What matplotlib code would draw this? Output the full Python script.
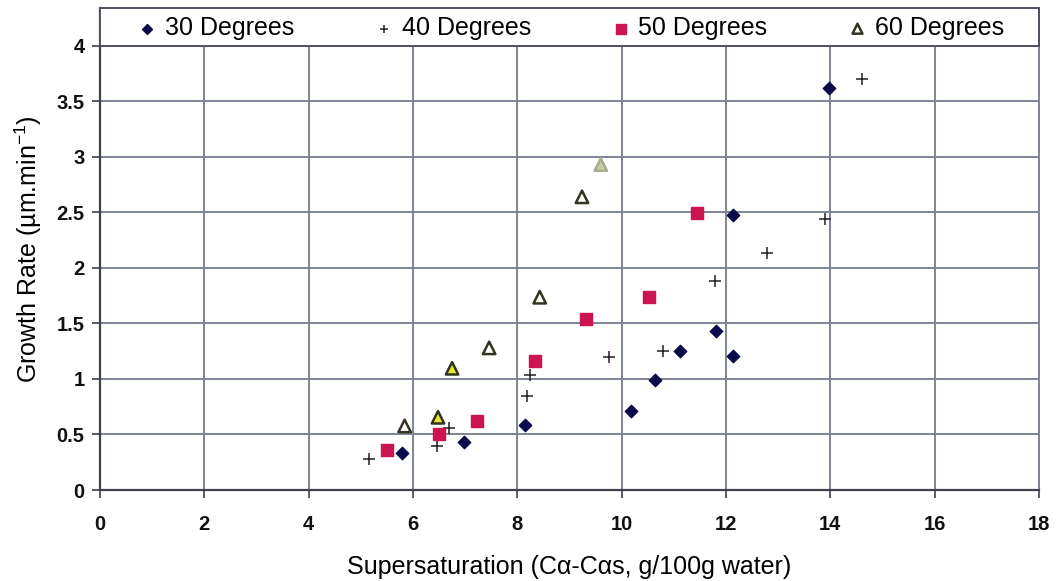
import numpy as np
import matplotlib
matplotlib.use("Agg")
import matplotlib.pyplot as plt
from matplotlib.patches import Rectangle

plt.rcParams['font.family'] = ['Liberation Sans', 'DejaVu Sans']
plt.rcParams['mathtext.fontset'] = 'custom'
plt.rcParams['mathtext.rm'] = 'Liberation Sans'
plt.rcParams['mathtext.it'] = 'Liberation Sans'

# data (supersaturation, growth rate)
x30 = [5.79, 6.97, 8.15, 10.17, 10.64, 11.11, 11.80, 12.13, 12.14, 13.97]
y30 = [0.33, 0.43, 0.585, 0.71, 0.99, 1.25, 1.43, 1.21, 2.48, 3.62]

x40 = [5.15, 6.46, 6.70, 8.19, 8.25, 9.76, 10.79, 11.79, 12.79, 13.90, 14.61]
y40 = [0.28, 0.40, 0.56, 0.85, 1.04, 1.20, 1.25, 1.88, 2.13, 2.44, 3.70]

x50 = [5.51, 6.49, 7.22, 8.34, 9.31, 10.52, 11.44]
y50 = [0.36, 0.50, 0.62, 1.165, 1.54, 1.736, 2.49]

x60 = [5.84, 6.48, 6.75, 7.46, 8.43, 9.24, 9.60]
y60 = [0.577, 0.655, 1.096, 1.28, 1.736, 2.64, 2.93]

labels = ['30 Degrees', '40 Degrees', '50 Degrees', '60 Degrees']
xticks = np.arange(0, 19, 2)
yticks = [0, 0.5, 1, 1.5, 2, 2.5, 3, 3.5, 4]

fig = plt.figure(figsize=(10.58, 5.81), dpi=100)
ax = fig.add_axes([0.0945, 0.1566, 0.8875, 0.8296])

grid_c = '#7d8494'
ax.set_axisbelow(True)
ax.grid(True, color=grid_c, linewidth=1.4)

ax.scatter(x30, y30, marker='D', s=40, color='#0a0a4a', label=labels[0], zorder=3)
ax.scatter(x40, y40, marker='+', s=64, color='#202020', linewidths=1.1, label=labels[1], zorder=3)
ax.scatter(x50, y50, marker='s', s=84, color='#cc1450', edgecolors='#cc1450', label=labels[2], zorder=3)
face60 = ['white', '#e8e830', '#e8e830', 'white', 'white', 'white', '#c8cca0']
edge60 = ['#333322'] * 6 + ['#a8ad8a']
ax.scatter(x60, y60, marker='^', s=80, facecolors=face60, edgecolors=edge60,
           linewidths=1.8, label=labels[3], zorder=3)

ax.set_xlim(0, 18)
ax.set_ylim(0, 4.34)
ax.set_xticks(xticks)
ax.set_yticks(yticks)
ax.set_xticklabels([str(v) for v in xticks])
ax.set_yticklabels(['0', '0.5', '1', '1.5', '2', '2.5', '3', '3.5', '4'])
ax.tick_params(axis='both', direction='out', length=6, width=1.2, color='#404050',
               labelsize=14.5, labelcolor='#111111')
ax.tick_params(axis='x', pad=12)
ax.tick_params(axis='y', pad=5)
for t in ax.get_xticklabels() + ax.get_yticklabels():
    t.set_fontweight('bold')

for side in ['left', 'bottom']:
    ax.spines[side].set_color('#404050')
    ax.spines[side].set_linewidth(1.6)
for side in ['top', 'right']:
    ax.spines[side].set_color(grid_c)
    ax.spines[side].set_linewidth(1.4)

ax.set_xlabel('Supersaturation (C\u03b1-C\u03b1s, g/100g water)', fontsize=18, labelpad=15)
ax.set_ylabel('Growth Rate (\u00b5m.min$^{-1}$)', fontsize=18, labelpad=9)

# legend box across the top of the plot area
box = Rectangle((0, 0.921), 1, 0.079, transform=ax.transAxes, facecolor='white',
                edgecolor='#505060', linewidth=1.4, zorder=4, clip_on=False)
ax.add_patch(box)
leg = ax.legend(loc='center', bbox_to_anchor=(0.5, 0.958), ncol=4, frameon=False,
                fontsize=18, handlelength=1.0, handletextpad=0.2, markerscale=0.8,
                columnspacing=3.1, borderaxespad=0)
leg.set_zorder(5)

fig.savefig('out.png', dpi=100)
